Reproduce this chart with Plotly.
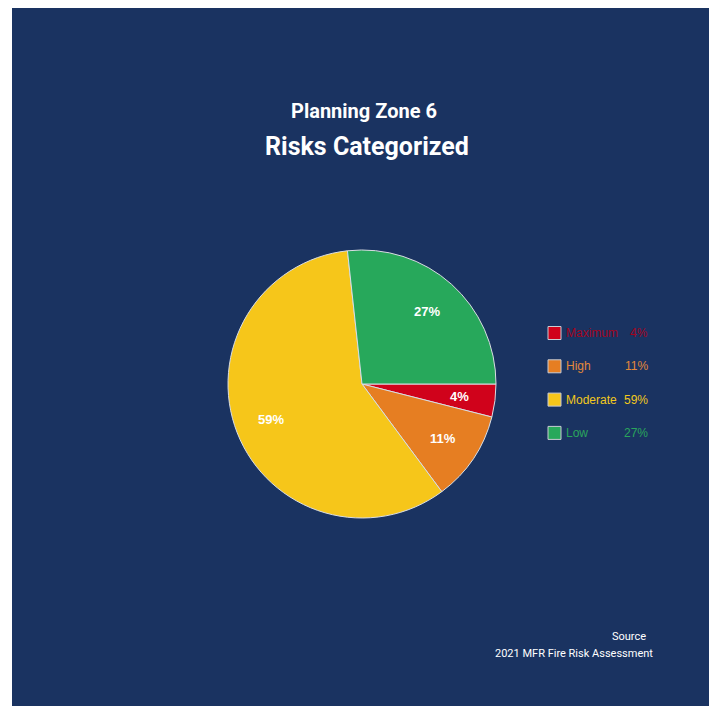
import math
import plotly.graph_objects as go

# Risk categories for Planning Zone 6
categories = ["Maximum", "High", "Moderate", "Low"]
shares = [4, 11, 59, 27]
slice_colors = ["#d0021b", "#e67e22", "#f6c61a", "#27a85b"]
legend_text_colors = ["#a3051f", "#e3893a", "#f2c81c", "#2aa55c"]

title_line1 = "Planning Zone 6"
title_line2 = "Risks Categorized"
source_lines = ["Source", "2021 MFR Fire Risk Assessment"]

W, H = 711, 707
NAVY = "#1a3361"
TITLE_FONT = "Roboto, Arial"


def px(x):
    return x / W


def py(y):
    return 1 - y / H


# pie placement (center and radius in pixels)
cx, cy, r = 362, 384, 134

fig = go.Figure()
fig.add_trace(go.Pie(
    labels=categories,
    values=shares,
    sort=False,
    direction="clockwise",
    rotation=90,
    marker=dict(colors=slice_colors, line=dict(color="#d9dde3", width=1)),
    textinfo="none",
    hoverinfo="label+percent",
    showlegend=False,
    domain=dict(x=[px(cx - r), px(cx + r)], y=[py(cy + r), py(cy - r)]),
))

shapes = [dict(type="rect", xref="paper", yref="paper",
               x0=px(12), x1=px(709), y0=py(706), y1=py(8),
               fillcolor=NAVY, line=dict(width=0), layer="below")]

annotations = [
    dict(text=f"<b>{title_line1}</b>", x=px(364), y=py(111), xref="paper", yref="paper",
         showarrow=False, xanchor="center", yanchor="middle",
         font=dict(family=TITLE_FONT, size=20, color="white")),
    dict(text=f"<b>{title_line2}</b>", x=px(367), y=py(146), xref="paper", yref="paper",
         showarrow=False, xanchor="center", yanchor="middle",
         font=dict(family=TITLE_FONT, size=25, color="white")),
    dict(text=source_lines[0], x=px(648), y=py(636), xref="paper", yref="paper",
         showarrow=False, xanchor="right", yanchor="middle",
         font=dict(family=TITLE_FONT, size=11, color="white")),
    dict(text=source_lines[1], x=px(655), y=py(653), xref="paper", yref="paper",
         showarrow=False, xanchor="right", yanchor="middle",
         font=dict(family=TITLE_FONT, size=11, color="white")),
]

# slice labels placed along each slice's mid-angle at 0.73 of the radius
total = sum(shares)
cum = 0
for val in shares:
    mid = (cum + val / 2) / total * 2 * math.pi  # clockwise from 3 o'clock
    cum += val
    lx = cx + 0.73 * r * math.cos(mid)
    ly = cy + 0.73 * r * math.sin(mid)
    annotations.append(dict(text=f"<b>{val}%</b>", x=px(lx), y=py(ly), xref="paper", yref="paper",
                            showarrow=False, xanchor="center", yanchor="middle",
                            font=dict(family="Arial", size=13, color="white")))

# custom legend: swatch, name, percentage in aligned columns
legend_top, row_gap = 333, 33.3
for i, (name, val, col, tcol) in enumerate(zip(categories, shares, slice_colors, legend_text_colors)):
    yc = legend_top + i * row_gap
    shapes.append(dict(type="rect", xref="paper", yref="paper",
                       x0=px(548), x1=px(561), y0=py(yc + 6.5), y1=py(yc - 6.5),
                       fillcolor=col, line=dict(color="#c9ccd3", width=1)))
    annotations.append(dict(text=name, x=px(564), y=py(yc), xref="paper", yref="paper",
                            showarrow=False, xanchor="left", yanchor="middle",
                            font=dict(family="Arial", size=12, color=tcol)))
    annotations.append(dict(text=f"{val}%", x=px(650), y=py(yc), xref="paper", yref="paper",
                            showarrow=False, xanchor="right", yanchor="middle",
                            font=dict(family="Arial", size=12, color=tcol)))

fig.update_layout(
    width=W, height=H,
    margin=dict(l=0, r=0, t=0, b=0),
    paper_bgcolor="white",
    plot_bgcolor="white",
    shapes=shapes,
    annotations=annotations,
)

fig.write_html("out.html")
